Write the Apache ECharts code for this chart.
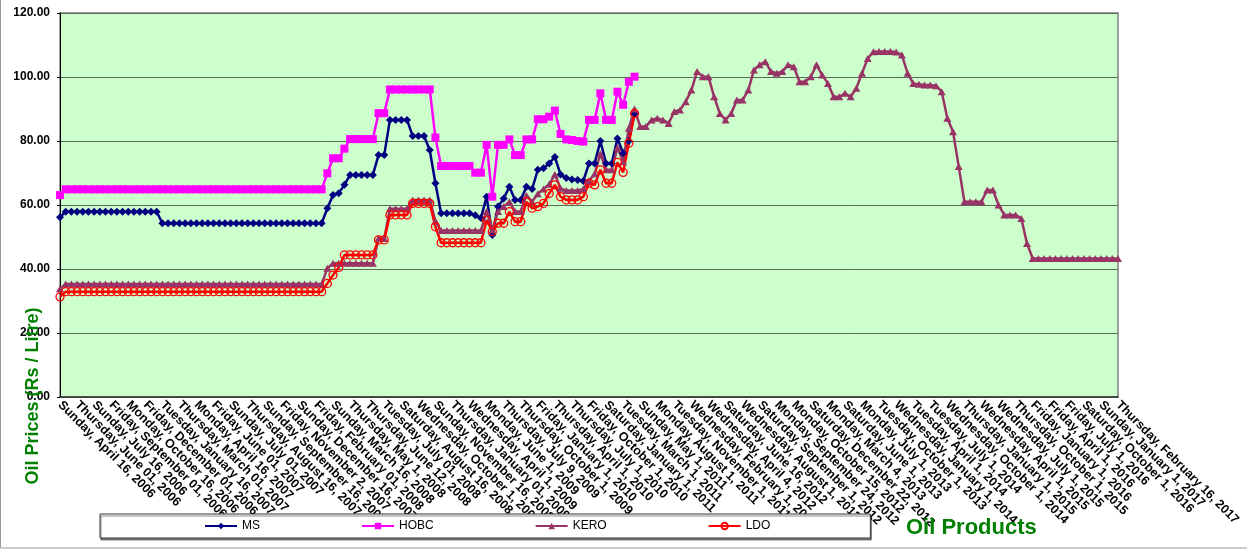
<!DOCTYPE html>
<html><head><meta charset="utf-8">
<script src="https://cdn.jsdelivr.net/npm/echarts@6/dist/echarts.min.js"></script>
<style>html,body{margin:0;padding:0;background:#fff}#c{width:1247px;height:550px}</style>
</head><body><div id="c"></div>
<script>
// Tick labels (one every 3 categories)
const tickLabels = [
"Sunday, April 16, 2006","Thursday, June 01, 2006","Sunday, July 16, 2006","Friday, September 01, 2006",
"Monday, October 16, 2006","Friday, December 01, 2006","Tuesday, January 16, 2007","Thursday, March 01, 2007",
"Monday, April 16, 2007","Friday, June 01, 2007","Sunday, July 01, 2007","Thursday, August 16, 2007",
"Sunday, September 16, 2007","Friday, November 2, 2007","Sunday, December 16, 2007","Friday, February 01, 2008",
"Sunday, March 16, 2008","Thursday, May 1, 2008","Thursday, June 12, 2008","Tuesday, July 01, 2008",
"Saturday, August 16, 2008","Wednesday, October 1, 2008","Sunday, November 16, 2008","Thursday, January 01, 2009",
"Wednesday, April 1, 2009","Monday, June 1, 2009","Thursday, July 9, 2009","Thursday, October 1, 2009",
"Friday, January 1, 2010","Thursday, April 1, 2010","Thursday, July 1, 2010","Friday, October 1, 2010",
"Saturday, January 1, 2011","Tuesday, March 1, 2011","Sunday, May 1, 2011","Monday, August 1, 2011",
"Tuesday, November 1, 2011","Wednesday, February 1, 2012","Wednesday, April 4, 2012","Saturday, June 16, 2012",
"Wednesday, August 1, 2012","Saturday, September 1, 2012","Monday, September 24, 2012","Monday, October 15, 2012",
"Saturday, December 22, 2012","Monday, March 4, 2013","Saturday, June 1, 2013","Monday, July 1, 2013",
"Tuesday, October 1, 2013","Wednesday, January 1, 2014","Tuesday, April 1, 2014","Tuesday, July 1, 2014",
"Wednesday, October 1, 2014","Thursday, January 1, 2015","Wednesday, April 1, 2015","Wednesday, July 1, 2015",
"Thursday, October 1, 2015","Friday, January 1, 2016","Friday, April 1, 2016","Friday, July 1, 2016",
"Saturday, October 1, 2016","Sunday, January 1, 2017","Thursday, February 16, 2017"
];
const categoriesPerTick = 3;

const ms = [
56.2,57.9,57.9,57.9,57.9,57.9,57.9,57.9,57.9,57.9,
57.9,57.9,57.9,57.9,57.9,57.9,57.9,57.9,54.3,54.3,
54.3,54.3,54.3,54.3,54.3,54.3,54.3,54.3,54.3,54.3,
54.3,54.3,54.3,54.3,54.3,54.3,54.3,54.3,54.3,54.3,
54.3,54.3,54.3,54.3,54.3,54.3,54.3,59.0,63.1,63.7,
66.3,69.4,69.4,69.4,69.4,69.4,75.6,75.6,86.6,86.6,
86.6,86.6,81.6,81.6,81.6,77.2,66.8,57.4,57.4,57.4,
57.4,57.4,57.4,56.8,55.9,62.6,50.6,59.5,62.0,65.7,
61.6,61.6,65.7,65.0,71.0,71.5,73.0,75.0,69.5,68.4,
68.0,67.8,67.5,73.0,73.0,80.0,73.0,73.0,80.8,76.2,
80.0,88.6
];
const hobc = [
63.1,64.9,64.9,64.9,64.9,64.9,64.9,64.9,64.9,64.9,
64.9,64.9,64.9,64.9,64.9,64.9,64.9,64.9,64.9,64.9,
64.9,64.9,64.9,64.9,64.9,64.9,64.9,64.9,64.9,64.9,
64.9,64.9,64.9,64.9,64.9,64.9,64.9,64.9,64.9,64.9,
64.9,64.9,64.9,64.9,64.9,64.9,64.9,69.9,74.6,74.6,
77.6,80.6,80.6,80.6,80.6,80.6,88.7,88.7,96.1,96.1,
96.1,96.1,96.1,96.1,96.1,96.1,81.1,72.2,72.2,72.2,
72.2,72.2,72.2,70.1,70.1,78.8,62.6,78.8,78.8,80.5,
75.6,75.6,80.5,80.5,86.8,86.8,87.6,89.5,82.2,80.5,
80.3,80.0,79.8,86.6,86.6,94.9,86.6,86.6,95.4,91.3,
98.5,100.1
];
const kero = [
33.8,35.3,35.3,35.3,35.3,35.3,35.3,35.3,35.3,35.3,
35.3,35.3,35.3,35.3,35.3,35.3,35.3,35.3,35.3,35.3,
35.3,35.3,35.3,35.3,35.3,35.3,35.3,35.3,35.3,35.3,
35.3,35.3,35.3,35.3,35.3,35.3,35.3,35.3,35.3,35.3,
35.3,35.3,35.3,35.3,35.3,35.3,35.3,40.2,41.8,41.8,
41.8,41.8,41.8,41.8,41.8,41.8,49.5,49.5,58.8,58.8,
58.8,58.8,61.6,61.6,61.6,61.6,55.0,52.0,52.0,52.0,
52.0,52.0,52.0,52.0,52.0,58.0,52.2,58.0,59.5,61.0,
58.0,58.0,63.0,61.0,63.5,65.0,66.5,69.5,65.2,64.5,
64.5,64.5,65.0,67.5,69.8,76.0,71.0,71.0,78.0,73.5,
84.0,90.0,84.5,84.5,86.6,87.1,86.6,85.5,89.2,89.7,
92.3,95.9,101.7,100.1,100.1,93.8,88.6,86.6,88.6,92.8,
92.8,95.9,102.2,103.8,104.8,101.7,101.2,101.7,103.8,103.2,
98.5,98.5,100.1,103.8,100.6,98.0,93.8,93.8,94.9,93.8,
96.5,101.2,105.8,107.9,108.0,108.0,108.0,107.8,106.9,101.2,
98.0,97.7,97.5,97.5,97.3,95.4,87.1,82.9,72.0,61.0,
61.0,61.0,61.0,64.7,64.7,60.0,56.9,56.9,56.9,55.8,
48.0,43.3,43.3,43.3,43.3,43.3,43.3,43.3,43.3,43.3,
43.3,43.3,43.3,43.3,43.3,43.3,43.3
];
const ldo = [
31.3,32.9,32.9,32.9,32.9,32.9,32.9,32.9,32.9,32.9,
32.9,32.9,32.9,32.9,32.9,32.9,32.9,32.9,32.9,32.9,
32.9,32.9,32.9,32.9,32.9,32.9,32.9,32.9,32.9,32.9,
32.9,32.9,32.9,32.9,32.9,32.9,32.9,32.9,32.9,32.9,
32.9,32.9,32.9,32.9,32.9,32.9,32.9,35.5,38.1,40.5,
44.4,44.4,44.4,44.4,44.4,44.4,49.1,49.1,56.9,56.9,
56.9,56.9,60.5,60.5,60.5,60.5,53.2,48.2,48.2,48.2,
48.2,48.2,48.2,48.2,48.2,55.3,51.7,54.3,54.3,57.9,
54.8,54.8,61.0,59.0,59.5,60.5,63.6,66.3,62.6,61.6,
61.6,61.6,62.6,66.8,66.3,71.0,66.8,66.8,73.3,70.2,
79.3,88.6
];
const seriesNames = ["MS","HOBC","KERO","LDO"];
const yTicks = {min: 0, max: 120, step: 20};

const FONT = "'Liberation Sans', Arial, sans-serif";
const categories = [];
for (let i = 0; i < kero.length; i++) categories.push(String(i));

const chart = echarts.init(document.getElementById('c'), null, {renderer: 'canvas'});
const lineW = 2.5;
chart.setOption({
  animation: false,
  backgroundColor: '#ffffff',
  textStyle: {fontFamily: FONT},
  grid: {
    left: 60, right: 129, top: 13, bottom: 153,
    show: true, backgroundColor: '#CCFFCC', borderColor: '#808080', borderWidth: 1.5,
    containLabel: false, outerBoundsMode: 'none'
  },
  legend: {
    data: seriesNames,
    left: 100, top: 514,
    orient: 'horizontal',
    itemWidth: 32, itemHeight: 8, itemGap: 101,
    padding: [6, 100, 6, 104],
    backgroundColor: '#ffffff', borderColor: '#333333', borderWidth: 1,
    shadowColor: 'rgba(0,0,0,0.45)', shadowOffsetX: 1, shadowOffsetY: 2, shadowBlur: 0,
    textStyle: {fontSize: 12, color: '#000', fontFamily: FONT}
  },
  xAxis: {
    type: 'category', boundaryGap: false, data: categories,
    axisLine: {show: true, lineStyle: {color: '#333', width: 1.5}},
    axisTick: {show: false},
    splitLine: {show: false},
    axisLabel: {
      interval: 0, rotate: -45, margin: 6, hideOverlap: false,
      fontSize: 12.5, fontWeight: 'bold', color: '#000', fontFamily: FONT,
      formatter: (v, idx) => (idx % categoriesPerTick === 0) ? (tickLabels[idx / categoriesPerTick] || '') : ''
    }
  },
  yAxis: {
    type: 'value', min: yTicks.min, max: yTicks.max, interval: yTicks.step,
    axisLine: {show: true, lineStyle: {color: '#000', width: 1}},
    axisTick: {show: true, length: 3, lineStyle: {color: '#000'}},
    splitLine: {show: true, lineStyle: {color: '#5b6b5b', width: 1}},
    axisLabel: {formatter: v => v.toFixed(2), fontSize: 12, fontWeight: 'bold', color: '#000', margin: 10, fontFamily: FONT,
      showMinLabel: true, showMaxLabel: true}
  },
  series: [
    {name: 'MS', type: 'line', data: ms, symbol: 'diamond', symbolSize: 8, showAllSymbol: true,
     lineStyle: {color: '#000080', width: lineW}, itemStyle: {color: '#000080'}},
    {name: 'HOBC', type: 'line', data: hobc, symbol: 'rect', symbolSize: 8, showAllSymbol: true,
     lineStyle: {color: '#FF00FF', width: lineW}, itemStyle: {color: '#FF00FF'}},
    {name: 'KERO', type: 'line', data: kero, symbol: 'triangle', symbolSize: [8, 7], showAllSymbol: true,
     lineStyle: {color: '#993366', width: lineW}, itemStyle: {color: '#993366'}},
    {name: 'LDO', type: 'line', data: ldo, symbol: 'circle', symbolSize: 8, showAllSymbol: true,
     lineStyle: {color: '#FF0000', width: lineW},
     itemStyle: {color: 'rgba(255,0,0,0)', borderColor: '#FF0000', borderWidth: 1.3}}
  ],
  graphic: [
    {type: 'rect', silent: true, z: -10, shape: {x: 0.5, y: -5, width: 1260, height: 553},
     style: {fill: 'none', stroke: '#999999', lineWidth: 1}},
    {type: 'text', z: 100, x: 33, y: 396, rotation: Math.PI / 2,
     style: {text: 'Oil Prices (Rs / Litre)', fill: '#008000', font: 'bold 18px ' + FONT, align: 'center', verticalAlign: 'middle'}},
    {type: 'text', z: 100, x: 906, y: 528,
     style: {text: 'Oil Products', fill: '#008000', font: 'bold 22px ' + FONT, align: 'left', verticalAlign: 'middle'}}
  ]
});
</script>
</body></html>
